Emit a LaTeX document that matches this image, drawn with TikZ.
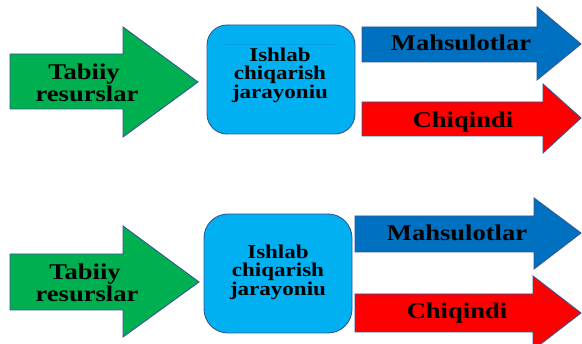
\documentclass[tikz,border=0pt]{standalone}
\usepackage{fontspec}
\newfontfamily\labfont[FakeStretch=1.18]{Liberation Serif}
\definecolor{arrgreen}{HTML}{00B050}
\definecolor{boxblue}{HTML}{00B0F0}
\definecolor{arrblue}{HTML}{0070C0}
\definecolor{arrred}{HTML}{FF0000}
\definecolor{edge}{RGB}{52,86,150}
\tikzset{
  shapeline/.style={draw=edge, line width=0.9pt, line join=miter},
  bigtxt/.style={inner sep=0pt, anchor=base, font=\labfont\bfseries\fontsize{22.5}{22.5}\selectfont, text=black},
  boxtxt/.style={inner sep=0pt, anchor=north, align=center, font=\labfont\bfseries\fontsize{19.5}{18.5}\selectfont, text=black},
}
\begin{document}
\begin{tikzpicture}[x=1pt,y=-1pt]
\useasboundingbox (0,0) rectangle (582,344);
\clip (0,0) rectangle (582,344);
\fill[white] (0,0) rectangle (582,344);
% ---------- top panel ----------
\draw[shapeline, fill=arrgreen] (10,54) -- (123,54) -- (123,27) -- (198,82) -- (123,137) -- (123,109) -- (10,109) -- cycle;
\node[bigtxt] (t1a) at (84,80) {Tabiiy};
\node[bigtxt] (t1b) at (87,102) {resurslar};
\draw[shapeline, fill=boxblue, rounded corners=20pt] (207,25) rectangle (355,134);
\draw[edge!20!boxblue, line width=0.4pt] (225,44) -- (335,44);
\node[boxtxt] (p1) at (280,47.5) {Ishlab\\chiqarish\\jarayoniu};
\draw[shapeline, fill=arrblue] (362,27) -- (537,27) -- (537,7) -- (581,44) -- (537,80) -- (537,62) -- (362,62) -- cycle;
\node[bigtxt] (m1) at (461,51) {Mahsulotlar};
\draw[shapeline, fill=arrred] (362,102) -- (543,102) -- (543,84) -- (581,118) -- (543,153) -- (543,136) -- (362,136) -- cycle;
\node[bigtxt] (c1) at (463,128) {Chiqindi};
% ---------- bottom panel ----------
\draw[shapeline, fill=arrgreen] (10,254) -- (123,254) -- (123,226) -- (199,282) -- (123,337) -- (123,310) -- (10,310) -- cycle;
\node[bigtxt] (t2a) at (85,280) {Tabiiy};
\node[bigtxt] (t2b) at (87,302) {resurslar};
\draw[shapeline, fill=boxblue, rounded corners=24pt] (204,214) rectangle (352,333);
\node[boxtxt] (p2) at (278,244.5) {Ishlab\\chiqarish\\jarayoniu};
\draw[shapeline, fill=arrblue] (355,216) -- (534,216) -- (534,198) -- (581,233) -- (534,269) -- (534,252) -- (355,252) -- cycle;
\node[bigtxt] (m2) at (457,241) {Mahsulotlar};
\draw[shapeline, fill=arrred] (355,294) -- (533,294) -- (533,276) -- (581,313) -- (533,350) -- (533,332) -- (355,332) -- cycle;
\node[bigtxt] (c2) at (457,319) {Chiqindi};
\end{tikzpicture}
\end{document}
